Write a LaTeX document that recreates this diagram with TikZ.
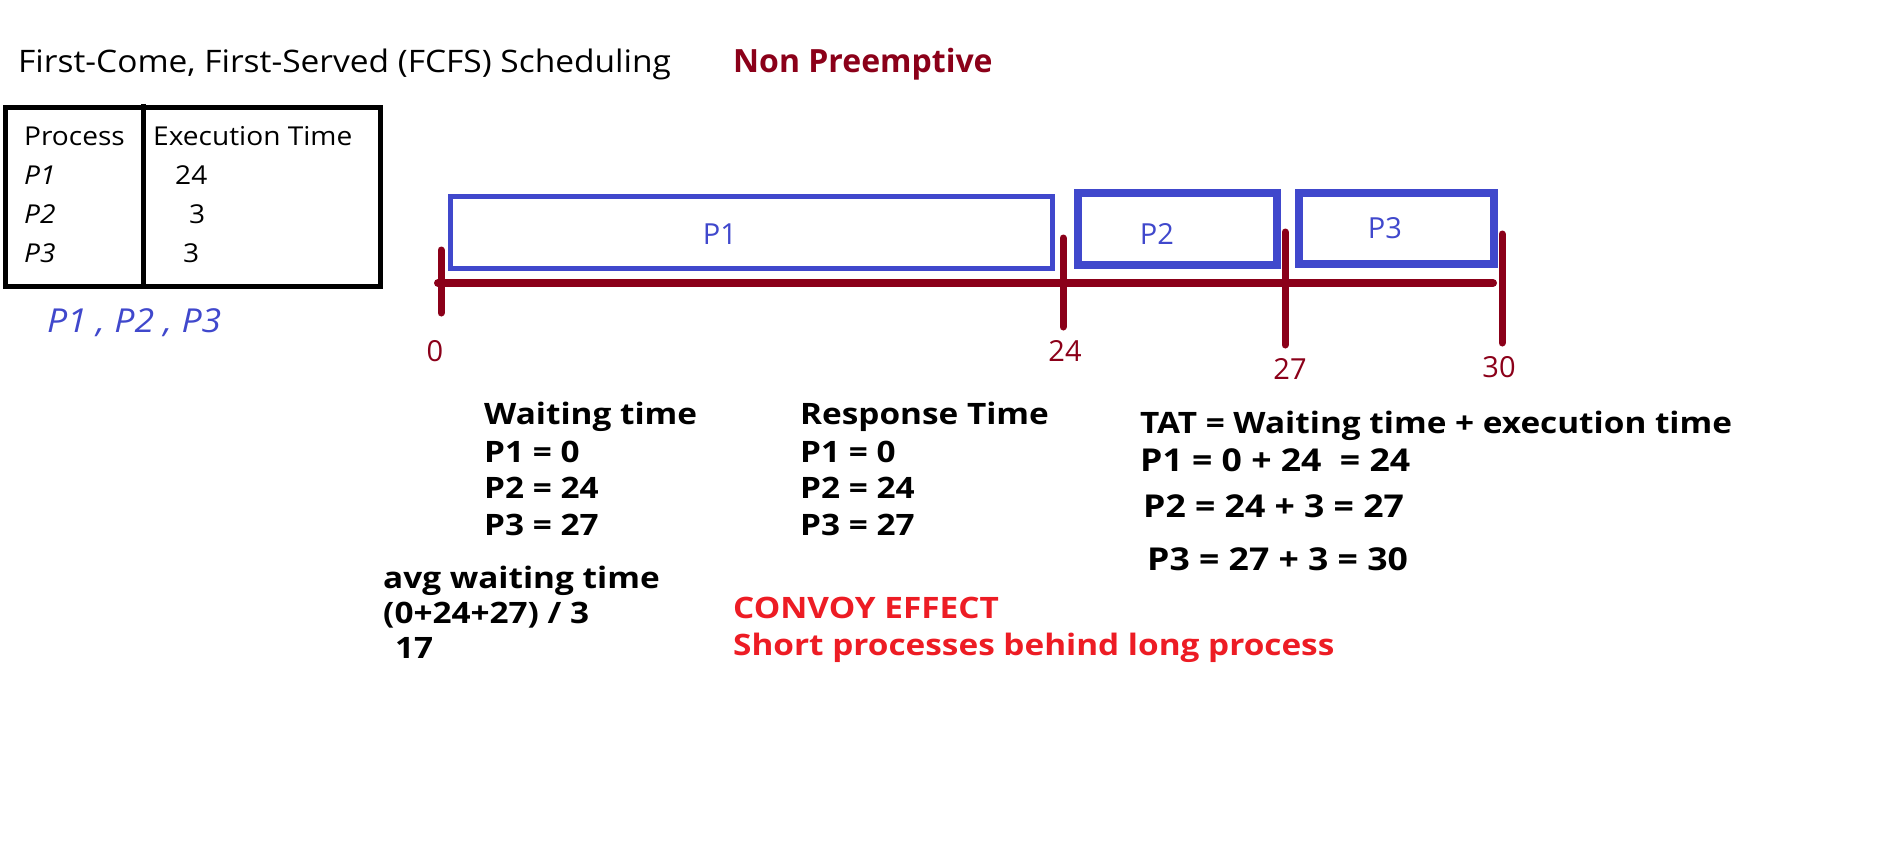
\documentclass[tikz,border=0pt]{standalone}
\usepackage{fontspec}
\setmainfont{Open Sans}
\newfontfamily\wider[FakeStretch=1.08]{Open Sans}
\newfontfamily\widebold[FakeStretch=1.13]{Open Sans}
\definecolor{dred}{RGB}{139,0,25}
\definecolor{pblue}{RGB}{64,72,204}
\definecolor{cred}{RGB}{237,28,36}
\tikzset{
  txt/.style={anchor=base west, inner sep=0pt, font=\wider\fontsize{26}{30}\selectfont},
  ttl/.style={anchor=base west, inner sep=0pt, font=\wider\fontsize{31}{36}\selectfont},
  bld/.style={anchor=base west, inner sep=0pt, font=\widebold\fontsize{29.5}{34}\selectfont\bfseries},
  bldl/.style={bld, font=\widebold\fontsize{31.5}{36}\selectfont\bfseries},
  gbox/.style={draw=pblue},
  glab/.style={anchor=base, inner sep=0pt, text=pblue, font=\fontsize{29}{34}\selectfont},
  tick/.style={draw=dred, line width=7pt, line cap=round},
  tlab/.style={anchor=base, inner sep=0pt, text=dred, font=\fontsize{29}{34}\selectfont},
}
\begin{document}
\begin{tikzpicture}[x=1pt,y=-1pt]
\useasboundingbox (0,0) rectangle (1894,848);
% title
\node[ttl] (title) at (18,73) {First-Come, First-Served (FCFS) Scheduling};
\node[anchor=base west, inner sep=0pt, font=\fontsize{32}{38}\selectfont\bfseries, text=dred] (np) at (733,73) {Non Preemptive};
% table
\draw[line width=5pt] (5.5,108) rectangle (380,286);
\draw[line width=5pt] (143,104) -- (143,286);
\node[txt] (hp) at (24,145) {Process};
\node[txt] (he) at (153,145) {Execution Time};
\node[txt, font=\wider\fontsize{26}{30}\selectfont\itshape] (r1) at (24,184) {P1};
\node[txt, font=\wider\fontsize{26}{30}\selectfont\itshape] (r2) at (24,223) {P2};
\node[txt, font=\wider\fontsize{26}{30}\selectfont\itshape] (r3) at (24,262) {P3};
\node[txt] (e1) at (175,184) {24};
\node[txt] (e2) at (189,223) {3};
\node[txt] (e3) at (183,262) {3};
\node[txt, text=pblue, font=\wider\fontsize{33}{38}\selectfont\itshape] (order) at (47,332) {P1 , P2 , P3};
% gantt
\draw[gbox, line width=5pt] (450.5,196.5) rectangle (1052.5,268.5);
\draw[gbox, line width=8pt] (1078,193) rectangle (1277,265);
\draw[gbox, line width=8pt] (1299,193) rectangle (1494,264);
\node[glab] (g1) at (720,244) {P1};
\node[glab] (g2) at (1157,244) {P2};
\node[glab] (g3) at (1385,238) {P3};
\coordinate (a0) at (438,283);
\coordinate (a1) at (1493,283);
\draw[draw=dred, line width=8pt, line cap=round] (a0) -- (a1);
\draw[tick] (441,250) -- (441,313);
\draw[tick] (1063,238) -- (1063,327);
\draw[tick] (1285,232) -- (1285,345);
\draw[tick] (1502,234) -- (1502,343);
\node[tlab] (t0) at (435,361) {0};
\node[tlab] (t24) at (1065,361) {24};
\node[tlab] (t27) at (1290,379) {27};
\node[tlab] (t30) at (1499,377) {30};
% bottom text
\node[bld] (wt) at (484,424) {Waiting time};
\node[bld] (w1) at (484,462) {P1 = 0};
\node[bld] (w2) at (484,498) {P2 = 24};
\node[bld] (w3) at (484,535) {P3 = 27};
\node[bld] (rt) at (800,424) {Response Time};
\node[bld] (q1) at (800,462) {P1 = 0};
\node[bld] (q2) at (800,498) {P2 = 24};
\node[bld] (q3) at (800,535) {P3 = 27};
\node[bld] (tat) at (1140,433) {TAT = Waiting time + execution time};
\node[bldl] (s1) at (1140,471) {P1 = 0 + 24 \ = 24};
\node[bldl] (s2) at (1143,517) {P2 = 24 + 3 = 27};
\node[bldl] (s3) at (1147,570) {P3 = 27 + 3 = 30};
\node[bld] (avg) at (383,588) {avg waiting time};
\node[bld] (avgf) at (383,623) {(0+24+27) / 3};
\node[bld] (avgv) at (395,658) {17};
\node[bld, text=cred] (cv) at (733,618) {CONVOY EFFECT};
\node[bld, text=cred] (cvd) at (733,655) {Short processes behind long process};
\end{tikzpicture}
\end{document}
